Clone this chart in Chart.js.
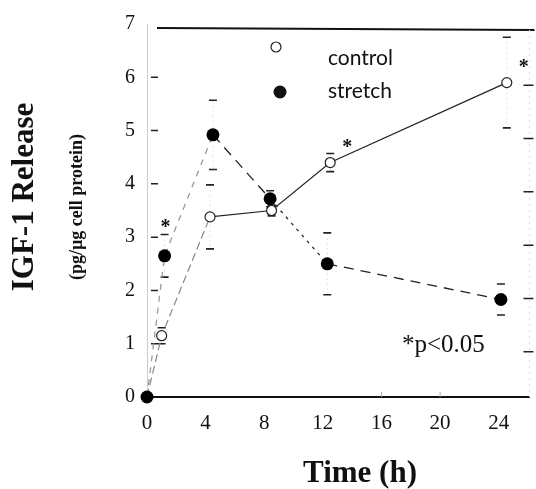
<!DOCTYPE html>
<html>
<head>
<meta charset="utf-8">
<script src="https://cdn.jsdelivr.net/npm/chart.js@4.4.0/dist/chart.umd.min.js"></script>
<style>
  html, body { margin: 0; padding: 0; background: #fff; }
  #wrap { width: 536px; height: 489px; }
</style>
</head>
<body>
<div id="wrap"><canvas id="igfChart" width="536" height="489"></canvas></div>
<script>
const xTicks = [0, 4, 8, 12, 16, 20, 24];
const yTicks = [0, 1, 2, 3, 4, 5, 6, 7];

// time (h) and IGF-1 release (pg/ug cell protein)
const controlTime = [0, 1.0, 4.3, 8.5, 12.5, 24.55];
const controlIGF  = [0, 1.15, 3.38, 3.5, 4.4, 5.9];
const controlErr  = [0, 0.15, 0.6, 0.1, 0.17, 0.85];

const stretchTime = [0, 1.2, 4.5, 8.4, 12.3, 24.15];
const stretchIGF  = [0, 2.65, 4.92, 3.72, 2.5, 1.83];
const stretchErr  = [0, 0.4, 0.65, 0.15, 0.58, 0.29];

// points marked significant
const controlStars = [4, 5];
const stretchStars = [1];

const serif = "'Liberation Serif', 'Times New Roman', serif";

function toPoints(xs, ys) {
  return xs.map((x, i) => ({ x: x, y: ys[i] }));
}

const extras = {
  id: "extras",
  beforeDatasetsDraw(chart) {
    const { ctx, chartArea } = chart;
    const xs = chart.scales.x;
    const ys = chart.scales.y;
    ctx.save();

    // top frame line
    ctx.strokeStyle = "#111";
    ctx.lineWidth = 2;
    ctx.beginPath();
    ctx.moveTo(chartArea.left + 10, chartArea.top + 4);
    ctx.lineTo(chartArea.right + 5, chartArea.top + 6);
    ctx.stroke();

    // faint right frame
    ctx.strokeStyle = "#ddd";
    ctx.lineWidth = 1;
    ctx.setLineDash([2, 4]);
    ctx.beginPath();
    ctx.moveTo(chartArea.right, chartArea.top + 6);
    ctx.lineTo(chartArea.right, chartArea.bottom);
    ctx.stroke();
    ctx.setLineDash([]);

    // inward ticks on the y axes
    ctx.strokeStyle = "#222";
    ctx.lineWidth = 1.5;
    yTicks.slice(1, -1).forEach(v => {
      const y = ys.getPixelForValue(v);
      ctx.beginPath();
      ctx.moveTo(chartArea.left + 4, y);
      ctx.lineTo(chartArea.left + 11, y);
      ctx.moveTo(chartArea.right - 6, y + 8);
      ctx.lineTo(chartArea.right + 4, y + 8);
      ctx.stroke();
    });

    // faint ticks on x axis
    ctx.strokeStyle = "#aaa";
    ctx.lineWidth = 1;
    xTicks.slice(4, 6).forEach(v => {
      const x = xs.getPixelForValue(v);
      ctx.beginPath();
      ctx.moveTo(x, chartArea.bottom);
      ctx.lineTo(x, chartArea.bottom - 5);
      ctx.stroke();
    });

    // error bars: very faint stem, dark caps
    function errBars(times, vals, errs) {
      times.forEach((t, i) => {
        if (!errs[i]) return;
        const x = xs.getPixelForValue(t);
        const hi = ys.getPixelForValue(vals[i] + errs[i]);
        const lo = ys.getPixelForValue(vals[i] - errs[i]);
        ctx.strokeStyle = "#e2e2e2";
        ctx.lineWidth = 1;
        ctx.setLineDash([2, 3]);
        ctx.beginPath();
        ctx.moveTo(x, hi);
        ctx.lineTo(x, lo);
        ctx.stroke();
        ctx.setLineDash([]);
        ctx.strokeStyle = "#222";
        ctx.lineWidth = 1.6;
        ctx.beginPath();
        ctx.moveTo(x - 4, hi);
        ctx.lineTo(x + 4, hi);
        ctx.moveTo(x - 4, lo);
        ctx.lineTo(x + 4, lo);
        ctx.stroke();
      });
    }
    errBars(controlTime, controlIGF, controlErr);
    errBars(stretchTime, stretchIGF, stretchErr);
    ctx.restore();
  },
  afterDraw(chart) {
    const { ctx } = chart;
    const xs = chart.scales.x;
    const ys = chart.scales.y;
    ctx.save();
    ctx.fillStyle = "#111";

    // axis titles
    ctx.textAlign = "center";
    ctx.textBaseline = "middle";
    ctx.font = "bold 31px " + serif;
    ctx.fillText("Time (h)", 360, 474);

    ctx.save();
    ctx.translate(25, 197);
    ctx.rotate(-Math.PI / 2);
    ctx.font = "bold 31px " + serif;
    ctx.fillText("IGF-1 Release", 0, 0);
    ctx.restore();

    ctx.save();
    ctx.translate(77, 207);
    ctx.rotate(-Math.PI / 2);
    ctx.font = "bold 18px " + serif;
    ctx.fillText("(pg/\u00b5g cell protein)", 0, 0);
    ctx.restore();

    // legend
    ctx.strokeStyle = "#222";
    ctx.lineWidth = 1.2;
    ctx.beginPath();
    ctx.arc(276, 47, 5, 0, Math.PI * 2);
    ctx.fillStyle = "#fff";
    ctx.fill();
    ctx.stroke();
    ctx.fillStyle = "#111";
    ctx.beginPath();
    ctx.arc(280, 92, 6.5, 0, Math.PI * 2);
    ctx.fill();

    ctx.textAlign = "left";
    ctx.font = "21px Lato, 'Open Sans', sans-serif";
    ctx.fillText("control", 328, 58);
    ctx.fillText("stretch", 328, 91);

    // significance marks
    ctx.font = "bold 20px " + serif;
    ctx.textAlign = "center";
    stretchStars.forEach(i => {
      ctx.fillText("*", xs.getPixelForValue(stretchTime[i]) + 1,
        ys.getPixelForValue(stretchIGF[i]) - 28);
    });
    controlStars.forEach(i => {
      ctx.fillText("*", xs.getPixelForValue(controlTime[i]) + 17,
        ys.getPixelForValue(controlIGF[i]) - 15);
    });

    ctx.textAlign = "left";
    ctx.font = "25px " + serif;
    ctx.fillText("*p<0.05", 402, 345);
    ctx.restore();
  }
};

const ctx = document.getElementById("igfChart").getContext("2d");

const chart = new Chart(ctx, {
  type: "line",
  data: {
    datasets: [
      {
        label: "stretch",
        data: toPoints(stretchTime, stretchIGF),
        borderColor: "#222",
        borderWidth: 1.3,
        borderDash: [10, 7],
        pointRadius: 6.5,
        pointBackgroundColor: "#000",
        pointBorderColor: "#000",
        pointBorderWidth: 0,
        segment: {
          borderColor: c => c.p1DataIndex <= 2 ? "#999" : "#222",
          borderDash: c => c.p1DataIndex <= 2 ? [6, 6] : (c.p1DataIndex === 4 ? [3, 5] : [10, 7])
        },
        clip: false
      },
      {
        label: "control",
        data: toPoints(controlTime, controlIGF),
        borderColor: "#222",
        borderWidth: 1.2,
        pointRadius: 5,
        pointBackgroundColor: "#fff",
        pointBorderColor: "#222",
        pointBorderWidth: 1.2,
        segment: {
          borderColor: c => c.p1DataIndex <= 2 ? "#888" : "#222",
          borderDash: c => c.p1DataIndex <= 2 ? [8, 4] : undefined
        },
        clip: false
      }
    ]
  },
  options: {
    responsive: false,
    animation: false,
    layout: { padding: { top: 16, right: 5, left: 0, bottom: 0 } },
    plugins: {
      legend: { display: false },
      tooltip: { enabled: false }
    },
    scales: {
      x: {
        type: "linear",
        min: 0,
        max: 26.1,
        grid: { display: false, drawTicks: false },
        border: { display: true, color: "#111", width: 2 },
        ticks: {
          color: "#111",
          font: { family: serif, size: 21 },
          padding: 14
        },
        afterBuildTicks: axis => {
          axis.ticks = xTicks.map(v => ({ value: v }));
        },
        afterFit: axis => { axis.height = 92; }
      },
      y: {
        min: 0,
        max: 7,
        grid: { display: false, drawTicks: false },
        border: { display: true, color: "#ccc", width: 1, dash: [3, 3] },
        ticks: {
          color: "#111",
          font: { family: serif, size: 20 },
          padding: 12
        },
        afterBuildTicks: axis => {
          axis.ticks = yTicks.map(v => ({ value: v }));
        },
        afterFit: axis => { axis.width = 147; }
      }
    }
  },
  plugins: [extras]
});
</script>
</body>
</html>
